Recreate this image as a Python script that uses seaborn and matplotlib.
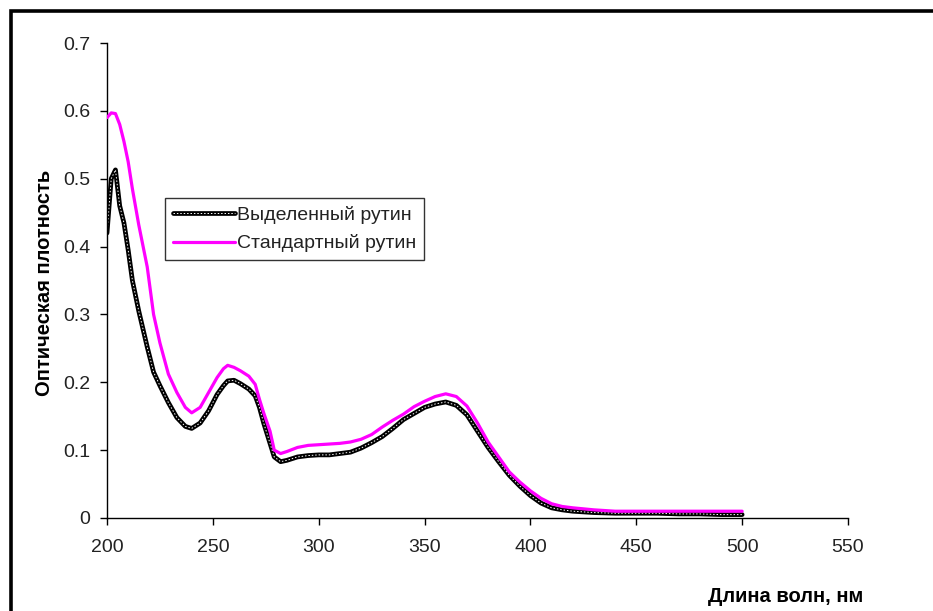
import numpy as np
import pandas as pd
import matplotlib
matplotlib.use("Agg")
import matplotlib.pyplot as plt
import matplotlib.patches as mpatches
from matplotlib.lines import Line2D
from matplotlib.legend_handler import HandlerTuple
import seaborn as sns

# ---- data ----
wavelength = [200, 202, 204, 206, 208, 210, 212, 215, 219, 222, 225, 229, 233, 237, 240,
              244, 248, 252, 255, 257, 260, 263, 267, 270, 272, 274, 277, 279, 282, 285,
              290, 295, 300, 305, 310, 315, 320, 325, 330, 335, 340, 345, 350, 355, 360,
              365, 370, 375, 380, 385, 390, 395, 400, 405, 410, 415, 420, 430, 440, 450,
              460, 470, 480, 490, 500]

standard_rutin = [0.590, 0.597, 0.596, 0.580, 0.555, 0.525, 0.485, 0.432, 0.370, 0.300,
                  0.258, 0.212, 0.185, 0.163, 0.155, 0.163, 0.185, 0.207, 0.220, 0.225,
                  0.222, 0.217, 0.209, 0.197, 0.175, 0.155, 0.128, 0.100, 0.095, 0.098,
                  0.104, 0.107, 0.108, 0.109, 0.110, 0.112, 0.116, 0.123, 0.134, 0.144,
                  0.153, 0.164, 0.172, 0.179, 0.183, 0.179, 0.165, 0.140, 0.112, 0.090,
                  0.068, 0.053, 0.040, 0.029, 0.021, 0.017, 0.015, 0.012, 0.010, 0.010,
                  0.010, 0.010, 0.010, 0.010, 0.010]

isolated_rutin = [0.420, 0.500, 0.513, 0.460, 0.435, 0.395, 0.350, 0.305, 0.252, 0.215,
                  0.195, 0.170, 0.148, 0.135, 0.132, 0.140, 0.158, 0.182, 0.195, 0.202,
                  0.203, 0.198, 0.190, 0.180, 0.163, 0.140, 0.110, 0.090, 0.083, 0.085,
                  0.090, 0.092, 0.093, 0.093, 0.095, 0.097, 0.103, 0.111, 0.120, 0.132,
                  0.145, 0.154, 0.163, 0.168, 0.171, 0.166, 0.152, 0.128, 0.104, 0.083,
                  0.063, 0.047, 0.033, 0.022, 0.015, 0.012, 0.010, 0.008, 0.007, 0.007,
                  0.007, 0.006, 0.006, 0.005, 0.005]

labels = ["Выделенный рутин", "Стандартный рутин"]
x_ticks = [200, 250, 300, 350, 400, 450, 500, 550]
y_ticks = [0, 0.1, 0.2, 0.3, 0.4, 0.5, 0.6, 0.7]
x_label = "Длина волн, нм"
y_label = "Оптическая плотность"

df = pd.DataFrame({"wl": wavelength, "iso": isolated_rutin, "std": standard_rutin})

sns.set_theme(style="white")
plt.rcParams["font.family"] = ["Liberation Sans", "DejaVu Sans"]

W, H = 933, 611
fig = plt.figure(figsize=(W / 100, H / 100), dpi=100)
ax = fig.add_axes([107 / W, 1 - 518 / H, (848 - 107) / W, (518 - 43) / H])

magenta = "#ff00ff"
iso_lw, iso_w_lw, std_lw = 3.4, 0.7, 2.3
iso_dash = (1.5, 2.0)
sns.lineplot(data=df, x="wl", y="std", ax=ax, color=magenta, lw=std_lw, zorder=3)
sns.lineplot(data=df, x="wl", y="iso", ax=ax, color="black", lw=iso_lw, zorder=2)
sns.lineplot(data=df, x="wl", y="iso", ax=ax, color="white", lw=iso_w_lw, zorder=2.5)
ax.lines[-1].set_dashes(iso_dash)

ax.set_xlim(200, 550)
ax.set_ylim(0, 0.7)
ax.set_xticks(x_ticks)
ax.set_yticks(y_ticks)
ax.set_xticklabels([str(v) for v in x_ticks])
ax.set_yticklabels(["0" if v == 0 else f"{v:.1f}" for v in y_ticks])

for s in ["top", "right"]:
    ax.spines[s].set_visible(False)
for s in ["left", "bottom"]:
    ax.spines[s].set_color("black")
    ax.spines[s].set_linewidth(1.0)

ax.tick_params(axis="both", which="major", direction="out", length=5, width=1,
               color="black", labelsize=14, labelcolor="#222222", left=True, bottom=True)
ax.tick_params(axis="y", pad=7)
ax.tick_params(axis="x", pad=10)

ax.set_xlabel(x_label, fontsize=14.5, fontweight="bold", color="black")
ax.set_ylabel(y_label, fontsize=14.5, fontweight="bold", color="black")
ax.xaxis.set_label_coords((863 - 107) / 741, (518 - 597) / 475)
ax.xaxis.label.set_ha("right")
ax.xaxis.label.set_va("center")
ax.yaxis.set_label_coords((45 - 107) / 741, (518 - 283) / 475)
ax.yaxis.label.set_va("center")

h_iso = (Line2D([], [], color="black", lw=iso_lw),
         Line2D([], [], color="white", lw=iso_w_lw, dashes=iso_dash))
h_std = Line2D([], [], color=magenta, lw=std_lw)
leg = ax.legend([h_iso, h_std], labels,
                handler_map={tuple: HandlerTuple(ndivide=1, pad=0)},
                loc="upper left", bbox_to_anchor=((165 - 107) / 741, (518 - 198) / 475),
                borderaxespad=0, fontsize=14, frameon=True, fancybox=False,
                handlelength=3.2, handletextpad=0.1, borderpad=0.4,
                labelspacing=0.55)
leg.get_frame().set_edgecolor("black")
leg.get_frame().set_linewidth(1.0)
for t in leg.get_texts():
    t.set_color("#222222")

# outer chart frame (extends past right and bottom edges)
rect = mpatches.Rectangle((11 / W, -0.1), 1.2, 1 - 11 / H + 0.1,
                          transform=fig.transFigure, fill=False,
                          edgecolor="black", lw=2.6, clip_on=False)
fig.patches.append(rect)

fig.savefig("out.png", dpi=100, facecolor="white")
